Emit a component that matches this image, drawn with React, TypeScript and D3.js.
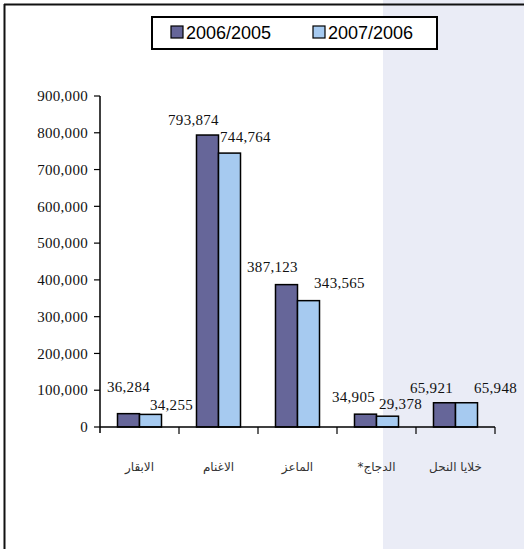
import React, { useEffect, useRef } from "react";
import * as d3 from "d3";

const categories = ["الابقار", "الاغنام", "الماعز", "الدجاج*", "خلايا النحل"];
const seriesNames = ["2006/2005", "2007/2006"];
const values2006 = [36284, 793874, 387123, 34905, 65921];
const values2007 = [34255, 744764, 343565, 29378, 65948];
const yTicks = [0, 100000, 200000, 300000, 400000, 500000, 600000, 700000, 800000, 900000];

// label nudges (px) relative to bar centre / top, as placed in the original
const labelDx = [
  [0, -14, -14, -12, -13],
  [21, 16, 31, 13, 29],
];
const labelDy = [
  [-22, -10, -13, -12, -10],
  [-4, -11, -13, -7, -10],
];

const W = 524;
const H = 549;
const colors = ["#666699", "#A6CAF0"];

export default function App() {
  const ref = useRef<SVGSVGElement>(null);
  useEffect(() => {
    document.body.style.margin = "0";
    const svg = d3.select(ref.current);
    svg.selectAll("*").remove();

    // shaded right panel
    svg.append("rect").attr("x", 383).attr("y", 0).attr("width", W - 383).attr("height", H).attr("fill", "#EAECF6");
    // frame lines
    svg.append("line").attr("x1", 4).attr("x2", W).attr("y1", 4.5).attr("y2", 4.5).attr("stroke", "#111").attr("stroke-width", 2);
    svg.append("line").attr("x1", 4.5).attr("x2", 4.5).attr("y1", 4).attr("y2", H).attr("stroke", "#111").attr("stroke-width", 2);

    const left = 100, right = 495, top = 96, bottom = 427;
    const y = d3.scaleLinear().domain([0, 900000]).range([bottom, top]);
    const x0 = d3.scaleBand<string>().domain(categories).range([left, right]).paddingInner(0).paddingOuter(0);
    const x1 = d3.scaleBand<string>().domain(seriesNames).range([0, x0.bandwidth()]).paddingInner(0).paddingOuter(0.795);

    const fmt = d3.format(",");
    const serif = "'Liberation Serif', 'Times New Roman', serif";

    // y axis
    const g = svg.append("g");
    g.append("line").attr("x1", left).attr("x2", left).attr("y1", top).attr("y2", bottom + 6).attr("stroke", "#000").attr("stroke-width", 1.5);
    yTicks.forEach((t) => {
      g.append("line").attr("x1", left - 6).attr("x2", left).attr("y1", y(t)).attr("y2", y(t)).attr("stroke", "#000").attr("stroke-width", 1.2);
      g.append("text").attr("x", left - 12).attr("y", y(t)).attr("dy", "0.35em").attr("text-anchor", "end")
        .attr("font-family", serif).attr("font-size", 15).attr("letter-spacing", 0.3).attr("fill", "#111").text(fmt(t));
    });

    // bars
    const data = [values2006, values2007];
    data.forEach((vals, si) => {
      vals.forEach((v, ci) => {
        const bx = x0(categories[ci])! + x1(seriesNames[si])!;
        svg.append("rect").attr("x", bx).attr("y", y(v)).attr("width", x1.bandwidth()).attr("height", y(0) - y(v))
          .attr("fill", colors[si]).attr("stroke", "#000").attr("stroke-width", 1.5);
      });
    });

    // x axis
    svg.append("line").attr("x1", left).attr("x2", right).attr("y1", bottom).attr("y2", bottom).attr("stroke", "#000").attr("stroke-width", 1.5);
    categories.forEach((c, i) => {
      const xe = x0(c)! + x0.bandwidth();
      svg.append("line").attr("x1", xe).attr("x2", xe).attr("y1", bottom).attr("y2", bottom + 7).attr("stroke", "#000").attr("stroke-width", 1.2);
      svg.append("text").attr("x", x0(c)! + x0.bandwidth() / 2).attr("y", 471).attr("text-anchor", "middle")
        .attr("direction", "rtl").style("unicode-bidi", "embed")
        .attr("font-family", "'DejaVu Sans', sans-serif").attr("font-size", 12).attr("fill", "#333").text(c);
    });

    // labels
    data.forEach((vals, si) => {
      vals.forEach((v, ci) => {
        const cx = x0(categories[ci])! + x1(seriesNames[si])! + x1.bandwidth() / 2;
        svg.append("text").attr("x", cx + labelDx[si][ci]).attr("y", y(v) + labelDy[si][ci]).attr("text-anchor", "middle")
          .attr("font-family", serif).attr("font-size", 15).attr("letter-spacing", 0.3).attr("fill", "#111").text(fmt(v));
      });
    });

    // legend
    const lg = svg.append("g");
    lg.append("rect").attr("x", 152).attr("y", 17).attr("width", 285).attr("height", 32).attr("fill", "#fff").attr("stroke", "#000").attr("stroke-width", 2);
    const legX = [171, 313];
    seriesNames.forEach((s, i) => {
      lg.append("rect").attr("x", legX[i]).attr("y", 26).attr("width", 12).attr("height", 12).attr("fill", colors[i]).attr("stroke", "#000").attr("stroke-width", 1.2);
      lg.append("text").attr("x", legX[i] + 15).attr("y", 39).attr("font-family", "'Liberation Sans', Arial, sans-serif").attr("font-size", 18).attr("fill", "#000").text(s);
    });
  }, []);
  return <svg ref={ref} width={W} height={H} style={{ display: "block", position: "absolute", left: 0, top: 0 }} />;
}
